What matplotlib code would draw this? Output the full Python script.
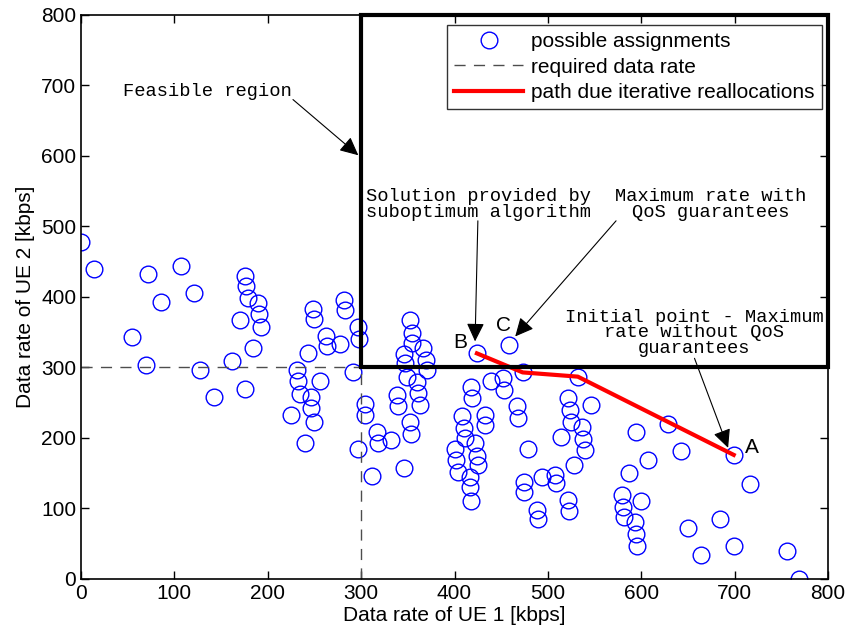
import numpy as np
import matplotlib
matplotlib.use("Agg")
import matplotlib.pyplot as plt
from matplotlib.patches import Rectangle, ArrowStyle

plt.rcParams['font.family'] = ['Liberation Sans', 'DejaVu Sans']

# rate pairs (UE1, UE2) in kbps for every possible assignment
ue1 = np.array([0, 14, 72, 107, 86, 121, 55, 70, 127, 142, 162, 176, 176, 177, 179, 190,
                191, 193, 170, 184, 231, 232, 234, 225, 246, 246, 249, 240, 248, 249, 243,
                256, 262, 263, 277, 282, 283, 297, 298, 291, 304, 304, 317, 318, 332, 297,
                312, 346, 352, 355, 355, 366, 369, 370, 346, 347, 349, 360, 361, 363, 338,
                339, 352, 353, 424, 458, 439, 418, 419, 452, 453, 473, 467, 468, 408, 410,
                411, 400, 402, 404, 433, 433, 422, 424, 425, 417, 417, 418, 479, 474, 474,
                494, 508, 509, 488, 489, 514, 528, 522, 523, 522, 524, 525, 532, 537, 538,
                540, 546, 594, 607, 587, 629, 643, 699, 716, 579, 580, 581, 593, 594, 595,
                600, 650, 664, 684, 699, 756, 769])
ue2 = np.array([478, 439, 432, 444, 393, 405, 343, 304, 296, 258, 309, 270, 430, 416, 398, 391,
                376, 358, 367, 328, 296, 281, 263, 232, 258, 242, 223, 193, 383, 369, 321,
                281, 345, 330, 333, 395, 381, 357, 341, 293, 248, 233, 209, 193, 197, 184,
                146, 158, 367, 349, 334, 327, 311, 296, 319, 306, 286, 280, 264, 247, 261,
                246, 222, 206, 320, 332, 281, 273, 256, 285, 268, 293, 245, 229, 231, 214,
                200, 185, 169, 152, 233, 218, 193, 175, 162, 145, 131, 111, 185, 138, 123,
                145, 148, 136, 98, 85, 202, 162, 112, 96, 256, 240, 223, 287, 215, 199,
                183, 247, 208, 169, 150, 220, 181, 176, 134, 119, 102, 88, 81, 64, 47,
                111, 73, 34, 85, 47, 39, 0])

# reallocation path from the initial point A to the solution B
path_ue1 = [699, 532, 473, 424]
path_ue2 = [176, 287, 293, 320]

required = 300

fig = plt.figure(figsize=(8.51, 6.37), dpi=100)
ax = fig.add_axes([0.0952, 0.0911, 0.8778, 0.8854])

ax.plot(ue1, ue2, 'o', ms=12, mfc='none', mec='b', mew=1.0, label='possible assignments')
ax.plot([0, required], [required, required], color='0.3', lw=1.0, dashes=(8, 6),
        label='required data rate')
ax.plot([required, required], [0, required], color='0.3', lw=1.0, dashes=(8, 6))
ax.plot(path_ue1, path_ue2, color='r', lw=3, label='path due iterative reallocations')

# feasible region box
ax.add_patch(Rectangle((required, required), 800 - required, 800 - required,
                       fill=False, ec='k', lw=3, clip_on=False, zorder=5))

ax.set_xlim(0, 800)
ax.set_ylim(0, 800)
ax.set_xticks(np.arange(0, 801, 100))
ax.set_yticks(np.arange(0, 801, 100))
ax.tick_params(direction='in', top=True, right=True, length=6, width=1, labelsize=15)
for s in ax.spines.values():
    s.set_linewidth(1.2)
ax.set_xlabel('Data rate of UE 1 [kbps]', fontsize=15, labelpad=2)
ax.set_ylabel('Data rate of UE 2 [kbps]', fontsize=15, labelpad=4)

leg = ax.legend(loc='upper right', bbox_to_anchor=(0.992, 0.982), borderaxespad=0,
                numpoints=1, fontsize=15, fancybox=False, edgecolor='k',
                handlelength=3.3, handletextpad=0.4, labelspacing=0.3, borderpad=0.35)
leg.get_frame().set_linewidth(1.0)
leg.set_zorder(6)

mono = ['Liberation Mono', 'DejaVu Sans Mono']
head = ArrowStyle('-|>', head_length=0.75, head_width=0.36)
arrow = dict(arrowstyle=head, color='k', lw=0.8, mutation_scale=15, shrinkA=0, shrinkB=0)

ax.text(135, 692, 'Feasible region', family=mono, fontsize=13.5, ha='center', va='center')
ax.annotate('', xy=(297, 601), xytext=(227, 680), arrowprops=arrow)

ax.text(426, 531, 'Solution provided by\nsuboptimum algorithm', family=mono, fontsize=13.5,
        ha='center', va='center', linespacing=0.9)
ax.annotate('', xy=(422, 337), xytext=(425, 508), arrowprops=arrow)

ax.text(674, 531, 'Maximum rate with\nQoS guarantees', family=mono, fontsize=13.5,
        ha='center', va='center', linespacing=0.9)
ax.annotate('', xy=(465, 344), xytext=(573, 508), arrowprops=arrow)

ax.text(657, 349, 'Initial point - Maximum\nrate without QoS\nguarantees', family=mono,
        fontsize=13.5, ha='center', va='center', linespacing=0.9)
ax.annotate('', xy=(693, 186), xytext=(657, 313), arrowprops=arrow)

ax.text(719, 187, 'A', fontsize=15, ha='center', va='center')
ax.text(406, 335, 'B', fontsize=15, ha='center', va='center')
ax.text(452, 360, 'C', fontsize=15, ha='center', va='center')

fig.savefig('out.png', dpi=100)
